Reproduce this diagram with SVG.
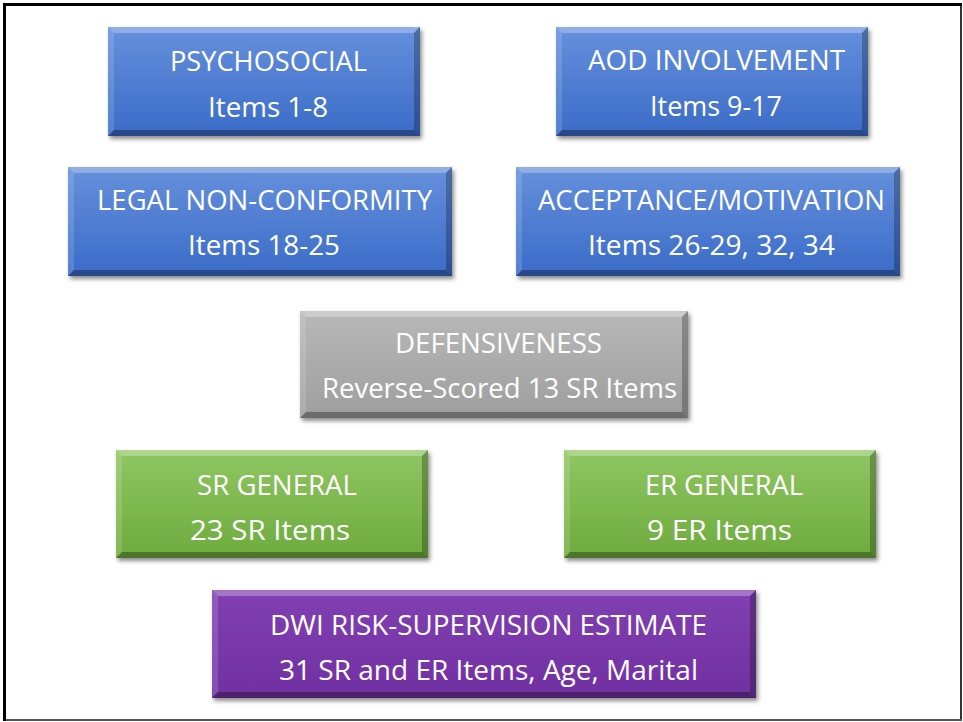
<svg xmlns="http://www.w3.org/2000/svg" width="963" height="722" viewBox="0 0 963 722">
  <defs>
    <linearGradient id="gBlue" x1="0" y1="0" x2="0" y2="1">
      <stop offset="0" stop-color="#6690dc"/>
      <stop offset="1" stop-color="#3a6bc8"/>
    </linearGradient>
    <linearGradient id="gGray" x1="0" y1="0" x2="0" y2="1">
      <stop offset="0" stop-color="#b8b8b8"/>
      <stop offset="1" stop-color="#9e9e9e"/>
    </linearGradient>
    <linearGradient id="gGreen" x1="0" y1="0" x2="0" y2="1">
      <stop offset="0" stop-color="#8fc662"/>
      <stop offset="1" stop-color="#6eab3e"/>
    </linearGradient>
    <linearGradient id="gPurple" x1="0" y1="0" x2="0" y2="1">
      <stop offset="0" stop-color="#8140b2"/>
      <stop offset="1" stop-color="#7130a2"/>
    </linearGradient>
    <filter id="shadow" x="-10%" y="-10%" width="120%" height="130%">
      <feDropShadow dx="2" dy="3" stdDeviation="2" flood-color="#000" flood-opacity="0.45"/>
    </filter>
  </defs>
  <style>
    .box { filter: url(#shadow); }
    .bt { fill: #ffffff; fill-opacity: 0.28; }
    .bl { fill: #ffffff; fill-opacity: 0.14; }
    .br { fill: #000000; fill-opacity: 0.25; }
    .bb { fill: #000000; fill-opacity: 0.32; }
    text { font-family: "Open Sans", "Liberation Sans", sans-serif; font-size: 28px; fill: #ffffff; text-anchor: middle; }
  </style>
  <rect x="0" y="0" width="963" height="722" fill="#ffffff"/>
  <g id="frame" fill="none">
    <line x1="961" y1="3" x2="961" y2="721" stroke="#333333" stroke-width="2"/>
    <line x1="3" y1="720" x2="962" y2="720" stroke="#555555" stroke-width="2"/>
    <line x1="3" y1="4.5" x2="962" y2="4.5" stroke="#000000" stroke-width="3"/>
    <line x1="4.5" y1="3" x2="4.5" y2="721" stroke="#000000" stroke-width="3"/>
  </g>
  <g id="connectors"/>

  <g id="psychosocial">
    <rect class="box" x="108" y="27" width="312" height="109" fill="url(#gBlue)"/>
    <polygon class="bt" points="108,27 420,27 414,33 114,33"/>
    <polygon class="bl" points="108,27 114,33 114,130 108,136"/>
    <polygon class="br" points="420,27 420,136 414,130 414,33"/>
    <polygon class="bb" points="108,136 420,136 414,130 114,130"/>
    <text x="268.5" y="71" textLength="197" lengthAdjust="spacingAndGlyphs">PSYCHOSOCIAL</text>
    <text x="268" y="117" textLength="120" lengthAdjust="spacingAndGlyphs">Items 1-8</text>
  </g>

  <g id="aod">
    <rect class="box" x="556" y="27" width="312" height="109" fill="url(#gBlue)"/>
    <polygon class="bt" points="556,27 868,27 862,33 562,33"/>
    <polygon class="bl" points="556,27 562,33 562,130 556,136"/>
    <polygon class="br" points="868,27 868,136 862,130 862,33"/>
    <polygon class="bb" points="556,136 868,136 862,130 562,130"/>
    <text x="716.5" y="70" textLength="257" lengthAdjust="spacingAndGlyphs">AOD INVOLVEMENT</text>
    <text x="716" y="116" textLength="132" lengthAdjust="spacingAndGlyphs">Items 9-17</text>
  </g>

  <g id="legal">
    <rect class="box" x="68" y="167" width="384" height="109" fill="url(#gBlue)"/>
    <polygon class="bt" points="68,167 452,167 446,173 74,173"/>
    <polygon class="bl" points="68,167 74,173 74,270 68,276"/>
    <polygon class="br" points="452,167 452,276 446,270 446,173"/>
    <polygon class="bb" points="68,276 452,276 446,270 74,270"/>
    <text x="264.5" y="210" textLength="335" lengthAdjust="spacingAndGlyphs">LEGAL NON-CONFORMITY</text>
    <text x="264" y="255" textLength="152" lengthAdjust="spacingAndGlyphs">Items 18-25</text>
  </g>

  <g id="acceptance">
    <rect class="box" x="516" y="167" width="384" height="109" fill="url(#gBlue)"/>
    <polygon class="bt" points="516,167 900,167 894,173 522,173"/>
    <polygon class="bl" points="516,167 522,173 522,270 516,276"/>
    <polygon class="br" points="900,167 900,276 894,270 894,173"/>
    <polygon class="bb" points="516,276 900,276 894,270 522,270"/>
    <text x="711.5" y="210" textLength="347" lengthAdjust="spacingAndGlyphs">ACCEPTANCE/MOTIVATION</text>
    <text x="711.5" y="255" textLength="247" lengthAdjust="spacingAndGlyphs">Items 26-29, 32, 34</text>
  </g>

  <g id="defensiveness">
    <rect class="box" x="300" y="311" width="388" height="107" fill="url(#gGray)"/>
    <polygon class="bt" points="300,311 688,311 682,317 306,317"/>
    <polygon class="bl" points="300,311 306,317 306,412 300,418"/>
    <polygon class="br" points="688,311 688,418 682,412 682,317"/>
    <polygon class="bb" points="300,418 688,418 682,412 306,412"/>
    <text x="498.5" y="353" textLength="207" lengthAdjust="spacingAndGlyphs">DEFENSIVENESS</text>
    <text x="499.5" y="398" textLength="355" lengthAdjust="spacingAndGlyphs">Reverse-Scored 13 SR Items</text>
  </g>

  <g id="sr-general">
    <rect class="box" x="116" y="450" width="312" height="108" fill="url(#gGreen)"/>
    <polygon class="bt" points="116,450 428,450 422,456 122,456"/>
    <polygon class="bl" points="116,450 122,456 122,552 116,558"/>
    <polygon class="br" points="428,450 428,558 422,552 422,456"/>
    <polygon class="bb" points="116,558 428,558 422,552 122,552"/>
    <text x="277" y="495" textLength="160" lengthAdjust="spacingAndGlyphs">SR GENERAL</text>
    <text x="270" y="540" textLength="160" lengthAdjust="spacingAndGlyphs">23 SR Items</text>
  </g>

  <g id="er-general">
    <rect class="box" x="564" y="450" width="312" height="108" fill="url(#gGreen)"/>
    <polygon class="bt" points="564,450 876,450 870,456 570,456"/>
    <polygon class="bl" points="564,450 570,456 570,552 564,558"/>
    <polygon class="br" points="876,450 876,558 870,552 870,456"/>
    <polygon class="bb" points="564,558 876,558 870,552 570,552"/>
    <text x="724" y="495" textLength="158" lengthAdjust="spacingAndGlyphs">ER GENERAL</text>
    <text x="719.5" y="540" textLength="145" lengthAdjust="spacingAndGlyphs">9 ER Items</text>
  </g>

  <g id="dwi">
    <rect class="box" x="212" y="590" width="544" height="108" fill="url(#gPurple)"/>
    <polygon class="bt" points="212,590 756,590 750,596 218,596"/>
    <polygon class="bl" points="212,590 218,596 218,692 212,698"/>
    <polygon class="br" points="756,590 756,698 750,692 750,596"/>
    <polygon class="bb" points="212,698 756,698 750,692 218,692"/>
    <text x="488.5" y="635" textLength="437" lengthAdjust="spacingAndGlyphs">DWI RISK-SUPERVISION ESTIMATE</text>
    <text x="488.5" y="680" textLength="419" lengthAdjust="spacingAndGlyphs">31 SR and ER Items, Age, Marital</text>
  </g>
</svg>
